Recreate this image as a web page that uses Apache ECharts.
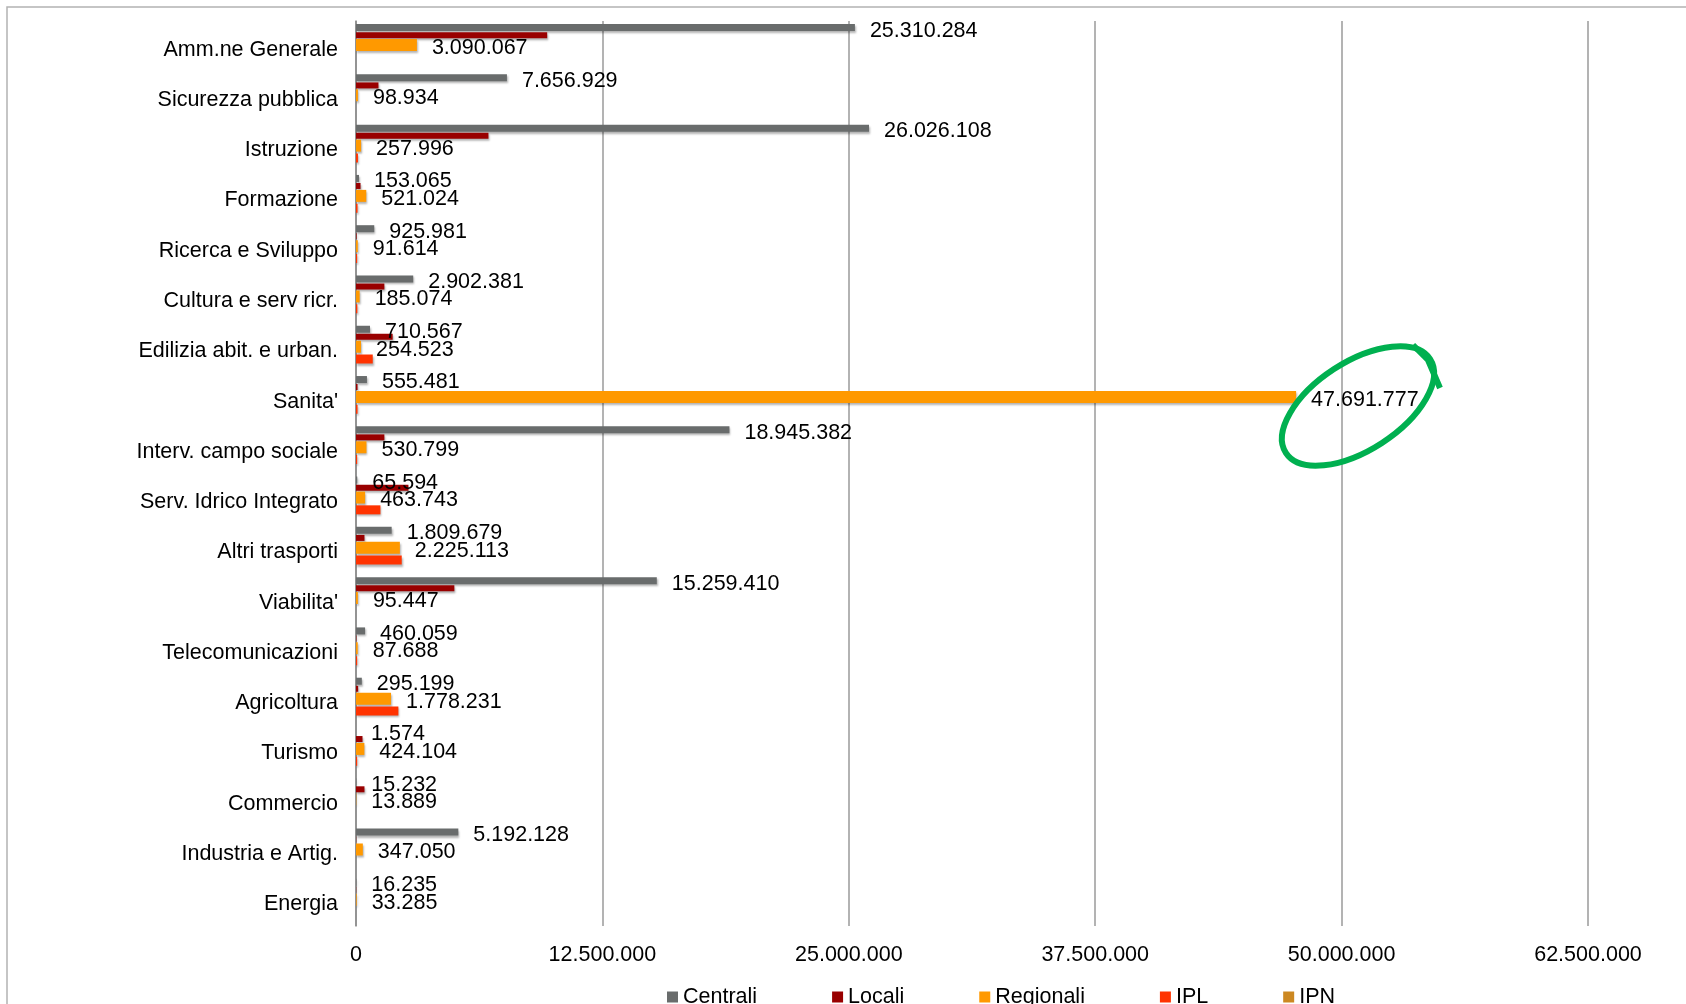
<!DOCTYPE html>
<html>
<head>
<meta charset="utf-8">
<title>Spesa per settore</title>
<script src="https://cdn.jsdelivr.net/npm/echarts@6/dist/echarts.min.js"></script>
<style>
  html, body { margin: 0; padding: 0; background: #fff; }
  #chart { width: 1686px; height: 1004px; }
</style>
</head>
<body>
<div id="chart"></div>
<script>
const categories = [
  'Amm.ne Generale', 'Sicurezza pubblica', 'Istruzione', 'Formazione',
  'Ricerca e Sviluppo', 'Cultura e serv ricr.', 'Edilizia abit. e urban.', "Sanita'",
  'Interv. campo sociale', 'Serv. Idrico Integrato', 'Altri trasporti', "Viabilita'",
  'Telecomunicazioni', 'Agricoltura', 'Turismo', 'Commercio',
  'Industria e Artig.', 'Energia'
];

const centrali = [25310284, 7656929, 26026108, 153065, 925981, 2902381, 710567, 555481, 18945382,
  65594, 1809679, 15259410, 460059, 295199, 1574, 15232, 5192128, 16235];
const locali = [9700000, 1140000, 6720000, 230000, 30000, 1440000, 1860000, 80000, 1440000,
  2660000, 430000, 4990000, 20000, 110000, 330000, 430000, 10000, 10000];
const regionali = [3090067, 98934, 257996, 521024, 91614, 185074, 254523, 47691777, 530799,
  463743, 2225113, 95447, 87688, 1778231, 424104, 13889, 347050, 33285];
const ipl = [0, 0, 100000, 80000, 60000, 70000, 850000, 80000, 60000,
  1240000, 2320000, 0, 60000, 2150000, 60000, 0, 0, 0];
const ipn = [0, 0, 0, 0, 0, 0, 0, 0, 0, 0, 0, 0, 0, 0, 0, 0, 0, 0];

const xMax = 62500000;
const xStep = 12500000;

const font = '"Liberation Sans", Arial, sans-serif';
const fontSize = 21.5;

// 25310284 -> "25.310.284"
const fmt = (v) => String(Math.round(v)).replace(/\B(?=(\d{3})+(?!\d))/g, '.');

const seriesDefs = [
  { name: 'Centrali', data: centrali, color: '#696c6c', width: 7, label: true },
  { name: 'Locali', data: locali, color: '#990000', width: 6, label: false },
  { name: 'Regionali', data: regionali, color: '#ff9900', width: 12, label: true },
  { name: 'IPL', data: ipl, color: '#ff3300', width: 9, label: false },
  { name: 'IPN', data: ipn, color: '#cc8822', width: 5, label: false },
];

const chart = echarts.init(document.getElementById('chart'), null, { renderer: 'canvas' });

const buildOptions = () => ({
  animation: false,
  textStyle: { fontFamily: font },
  grid: { left: 356, right: 98, top: 21, bottom: 78, containLabel: false, outerBoundsMode: 'none' },
  legend: {
    left: 667,
    top: 986,
    padding: 0,
    icon: 'rect',
    itemWidth: 11,
    itemHeight: 11,
    itemGap: 75,
    textStyle: { fontSize: fontSize, color: '#000', fontFamily: font },
    data: seriesDefs.map((s) => s.name),
  },
  xAxis: {
    type: 'value',
    min: 0,
    max: xMax,
    interval: xStep,
    axisLine: { show: false },
    axisTick: { show: false },
    splitLine: { lineStyle: { color: '#9a9a9a', width: 1.5 } },
    axisLabel: { fontSize: fontSize, color: '#000', margin: 18, fontFamily: font, formatter: fmt },
  },
  yAxis: {
    type: 'category',
    data: categories,
    inverse: true,
    axisLine: { lineStyle: { color: '#8a8a8a', width: 1.5 } },
    axisTick: { length: 6, lineStyle: { color: '#8a8a8a', width: 1.5 } },
    // labels sit a little below the band centre in the original
    axisLabel: {
      fontSize: fontSize, color: '#000', margin: 18, fontFamily: font,
      verticalAlign: 'top', lineHeight: 7,
    },
    splitLine: { show: false },
  },
  series: seriesDefs.map((s) => ({
    name: s.name,
    type: 'bar',
    data: s.data,
    barWidth: s.width,
    barGap: '15%',
    itemStyle: {
      color: s.color,
      shadowColor: 'rgba(0,0,0,0.3)',
      shadowBlur: 2,
      shadowOffsetX: 1,
      shadowOffsetY: 2,
    },
    label: {
      show: s.label,
      position: 'right',
      distance: 15,
      offset: [0, 3],
      fontSize: fontSize,
      color: '#000',
      fontFamily: font,
      formatter: (p) => fmt(p.value),
    },
  })),
  graphic: [
    {
      type: 'rect',
      silent: true,
      shape: { x: 7, y: 7, width: 1760, height: 1100 },
      style: { fill: 'none', stroke: '#b3b3b3', lineWidth: 1.5 },
    },
    {
      type: 'ellipse',
      silent: true,
      z: 100,
      x: 1358,
      y: 406,
      rotation: 33 * Math.PI / 180,
      shape: { cx: 0, cy: 0, rx: 86, ry: 44 },
      style: { fill: 'none', stroke: '#00b050', lineWidth: 6 },
    },
    {
      type: 'polyline',
      silent: true,
      z: 100,
      shape: { points: [[1413, 345], [1428, 360], [1440, 388]] },
      style: { fill: 'none', stroke: '#00b050', lineWidth: 6 },
    },
  ],
});

chart.setOption(buildOptions());
window.addEventListener('resize', () => chart.resize());
</script>
</body>
</html>
